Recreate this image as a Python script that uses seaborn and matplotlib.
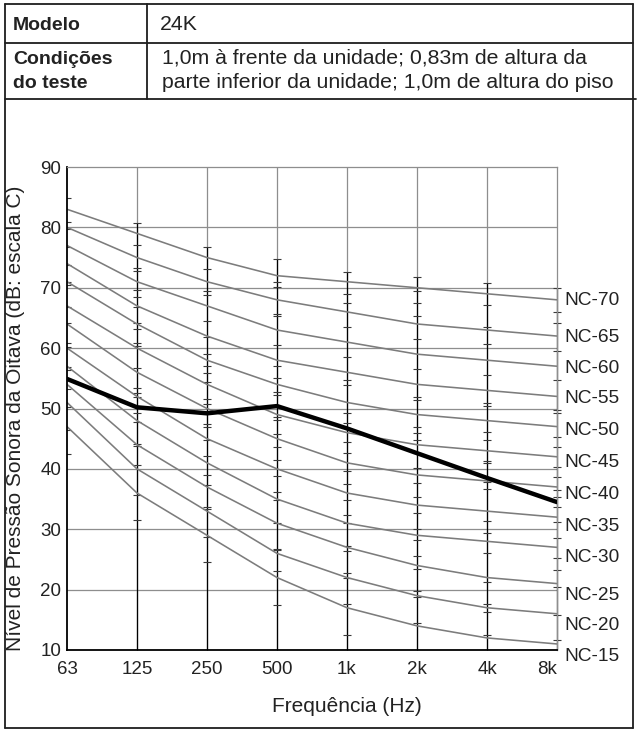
import numpy as np
import pandas as pd
import matplotlib
matplotlib.use("Agg")
import matplotlib.pyplot as plt
from matplotlib.lines import Line2D
import seaborn as sns

# ---------------- data ----------------
freq_labels = ["63", "125", "250", "500", "1k", "2k", "4k", "8k"]

nc_names = ["NC-15", "NC-20", "NC-25", "NC-30", "NC-35", "NC-40",
            "NC-45", "NC-50", "NC-55", "NC-60", "NC-65", "NC-70"]
nc15 = [47, 36, 29, 22, 17, 14, 12, 11]
nc20 = [51, 40, 33, 26, 22, 19, 17, 16]
nc25 = [54, 44, 37, 31, 27, 24, 22, 21]
nc30 = [57, 48, 41, 35, 31, 29, 28, 27]
nc35 = [60, 52, 45, 40, 36, 34, 33, 32]
nc40 = [64, 56, 50, 45, 41, 39, 38, 37]
nc45 = [67, 60, 54, 49, 46, 44, 43, 42]
nc50 = [71, 64, 58, 54, 51, 49, 48, 47]
nc55 = [74, 67, 62, 58, 56, 54, 53, 52]
nc60 = [77, 71, 67, 63, 61, 59, 58, 57]
nc65 = [80, 75, 71, 68, 66, 64, 63, 62]
nc70 = [83, 79, 75, 72, 71, 70, 69, 68]
nc_values = [nc15, nc20, nc25, nc30, nc35, nc40, nc45, nc50, nc55, nc60, nc65, nc70]

unit_levels = [54.9, 50.2, 49.2, 50.4, 46.7, 42.6, 38.5, 34.5]

# small reference marks along each frequency line
marks_63 = [84.8, 80.9, 79.7, 76.8, 73.7, 71.0, 70.4, 66.8, 64.1, 60.8, 60.2,
            56.9, 56.3, 53.3, 50.3, 46.5, 42.4]
marks_125 = [80.7, 77.0, 73.3, 72.7, 69.6, 68.4, 66.8, 64.1, 63.1, 60.9, 60.3,
             56.7, 53.4, 52.6, 51.9, 49.3, 47.8, 44.2, 43.8, 40.6, 35.7, 31.5]
marks_250 = [76.8, 73.1, 69.4, 68.8, 64.5, 61.9, 59.1, 57.1, 55.8, 54.4, 51.6,
             50.8, 47.4, 46.9, 44.8, 42.2, 39.0, 37.3, 33.7, 33.4, 28.7, 24.5]
marks_500 = [74.7, 71.0, 70.2, 65.7, 65.4, 60.5, 57.0, 55.1, 52.8, 52.2, 48.6,
             48.1, 45.7, 43.6, 41.5, 38.8, 36.2, 34.8, 31.0, 26.8, 26.6, 23.1, 17.5]
marks_1k = [72.6, 68.9, 67.4, 63.5, 58.6, 54.7, 53.9, 49.2, 47.6, 44.4, 42.7,
            39.7, 37.5, 34.8, 32.4, 31.1, 27.3, 26.4, 22.7, 21.9, 17.6, 12.5]
marks_2k = [71.7, 69.5, 67.4, 65.4, 61.5, 56.6, 51.9, 51.4, 47.0, 45.9, 44.8,
            42.7, 40.1, 37.7, 35.4, 32.7, 30.0, 28.2, 25.6, 23.4, 19.7, 18.7, 14.5]
marks_4k = [70.8, 67.1, 63.5, 60.7, 55.6, 50.9, 50.4, 46.1, 44.7, 41.3, 40.9,
            37.9, 36.6, 31.4, 29.3, 26.1, 21.3, 17.7, 16.3, 12.5]
marks_8k = [69.9, 66.0, 64.1, 59.6, 54.7, 49.8, 49.2, 45.3, 43.6, 40.3, 38.7,
            36.5, 35.4, 33.7, 31.2, 28.5, 25.2, 23.2, 20.5, 15.8, 11.7]
marks = [marks_63, marks_125, marks_250, marks_500, marks_1k, marks_2k, marks_4k, marks_8k]

header_model_label = "Modelo"
header_model_value = "24K"
header_cond_label = ["Condições", "do teste"]
header_cond_value = ["1,0m à frente da unidade; 0,83m de altura da",
                     "parte inferior da unidade; 1,0m de altura do piso"]
x_title = "Frequência (Hz)"
y_title = "Nível de Pressão Sonora da Oitava (dB: escala C)"

# ---------------- frames ----------------
pos = list(range(len(freq_labels)))
nc_df = pd.DataFrame([
    {"curve": name, "pos": p, "level": v}
    for name, vals in zip(nc_names, nc_values)
    for p, v in zip(pos, vals)
])
unit_df = pd.DataFrame({"pos": pos, "level": unit_levels})

# ---------------- figure ----------------
sns.set_style("white")
plt.rcParams["font.family"] = ["Liberation Sans", "DejaVu Sans"]

W, H = 637, 731
fig = plt.figure(figsize=(W / 100, H / 100), dpi=100)
TXT = "#222222"


def fx(px):
    return px / W


def fy(py):
    return 1 - py / H


ax = fig.add_axes([fx(67), fy(650), (557 - 67) / W, (650 - 167) / H])

GRID = "#8e8e8e"
for y in range(20, 90, 10):
    ax.axhline(y, color=GRID, lw=0.9, zorder=0)
for p in pos[1:-1]:
    ax.axvline(p, color=GRID, lw=0.9, zorder=0)
for p, m in zip(pos[1:], marks[1:]):
    ax.vlines(p, 10, max(m), color="black", lw=0.9, zorder=1, clip_on=False)
for p, m in zip(pos, marks):
    ax.plot([p] * len(m), m, ls="none", marker="_", ms=6, mew=0.8,
            color="#3a3a3a", zorder=1.5, clip_on=(p == 0))

sns.lineplot(data=nc_df, x="pos", y="level", units="curve", estimator=None,
             color="#7c7c7c", lw=1.15, ax=ax, legend=False, zorder=2)
sns.lineplot(data=unit_df, x="pos", y="level", color="black", lw=3.2,
             ax=ax, legend=False, zorder=3)

ax.set_xlim(0, len(pos) - 1)
ax.set_ylim(10, 90)
ax.set_xticks(pos)
ax.set_xticklabels(freq_labels)
ax.get_xticklabels()[-1].set_horizontalalignment("right")
ax.set_yticks(range(10, 100, 10))
ax.tick_params(axis="both", length=0, labelsize=13.5, colors=TXT)
ax.tick_params(axis="x", pad=8)
ax.tick_params(axis="y", pad=4)
ax.set_xlabel("")
ax.set_ylabel("")

fig.text(fx(347), fy(707), x_title, fontsize=15, color=TXT, ha="center", va="center")
fig.text(fx(16), fy(418), y_title, fontsize=15, color=TXT, ha="center",
         va="center", rotation=90)

for s in ["left", "bottom"]:
    ax.spines[s].set_color("black")
    ax.spines[s].set_linewidth(1.3)
for s in ["top", "right"]:
    ax.spines[s].set_color(GRID)
    ax.spines[s].set_linewidth(0.9)

# NC labels at the right end of each curve
label_dy = [2.0, 2.0, 1.9, 1.6, 1.6, 1.2, 1.0, 0.6, 0.3, 0.3, 0.3, 0.1]
for name, vals, dy in zip(nc_names, nc_values, label_dy):
    ax.text(len(pos) - 1 + 0.11, vals[-1] - dy, name, fontsize=13.8,
            color=TXT, va="center", ha="left", clip_on=False)

# ---------------- table frame ----------------
LC = "#1e1e1e"


def hline(y, x0, x1, lw=1.3):
    fig.add_artist(Line2D([fx(x0), fx(x1)], [fy(y), fy(y)], color=LC, lw=lw))


def vline(x, y0, y1, lw=1.3):
    fig.add_artist(Line2D([fx(x), fx(x)], [fy(y0), fy(y1)], color=LC, lw=lw))


hline(3.5, 4.5, 633)
hline(43, 4.5, 633)
hline(99, 4.5, 636)
hline(727.5, 4.5, 633)
vline(4.5, 3.5, 727.5)
vline(633, 3.5, 727.5)
vline(147, 3.5, 99)

fig.text(fx(13), fy(29.5), header_model_label, fontsize=14, fontweight="bold",
         va="baseline", ha="left", color=TXT)
fig.text(fx(160), fy(29.5), header_model_value, fontsize=15.3,
         va="baseline", ha="left", color=TXT)
for t, b in zip(header_cond_label, [64, 88]):
    fig.text(fx(13), fy(b), t, fontsize=14, fontweight="bold",
             va="baseline", ha="left", color=TXT)
for t, b in zip(header_cond_value, [64, 88]):
    fig.text(fx(162), fy(b), t, fontsize=15.3,
             va="baseline", ha="left", color=TXT)

fig.savefig("out.png", dpi=100)
